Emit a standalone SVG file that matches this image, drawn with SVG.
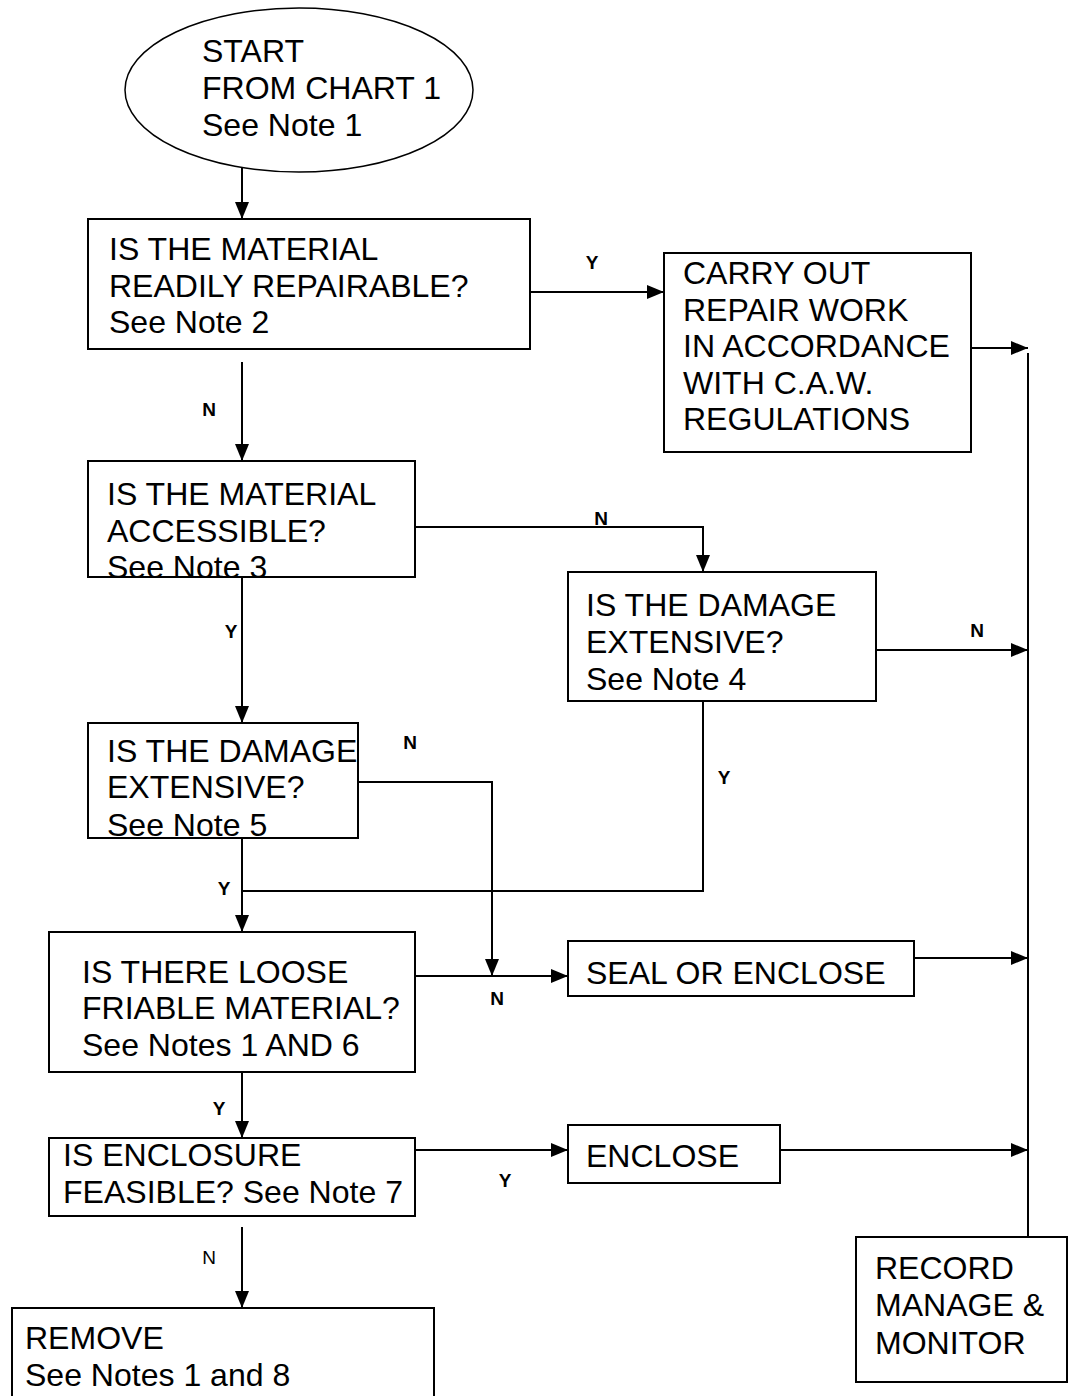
<svg xmlns="http://www.w3.org/2000/svg" width="1069" height="1396" viewBox="0 0 1069 1396">
<style>
.box{fill:#fff;stroke:#000;stroke-width:2}
.t{font-family:"Liberation Sans",Arial,sans-serif;font-size:30.5px;fill:#000}
.lb{font-family:"Liberation Sans",Arial,sans-serif;font-size:19px;font-weight:bold;fill:#000;text-anchor:middle}
.ln{font-family:"Liberation Sans",Arial,sans-serif;font-size:19px;fill:#000;text-anchor:middle}
.c{fill:none;stroke:#000;stroke-width:2}
</style>
<defs>
<marker id="ah" markerUnits="userSpaceOnUse" markerWidth="17" markerHeight="14" refX="17" refY="7" orient="auto">
<path d="M0,0 L17,7 L0,14 z" fill="#000"/>
</marker>
</defs>
<rect width="1069" height="1396" fill="#fff"/>

<g id="connectors">
<line class="c" x1="242" y1="161" x2="242" y2="219" marker-end="url(#ah)"/>
<line class="c" x1="530" y1="292" x2="664" y2="292" marker-end="url(#ah)"/>
<line class="c" x1="242" y1="362" x2="242" y2="461" marker-end="url(#ah)"/>
<polyline class="c" points="415,527 703,527 703,572" marker-end="url(#ah)"/>
<line class="c" x1="242" y1="577" x2="242" y2="723" marker-end="url(#ah)"/>
<polyline class="c" points="358,782 492,782 492,976" marker-end="url(#ah)"/>
<line class="c" x1="242" y1="838" x2="242" y2="932" marker-end="url(#ah)"/>
<polyline class="c" points="703,701 703,891 242,891"/>
<line class="c" x1="876" y1="650" x2="1028" y2="650" marker-end="url(#ah)"/>
<line class="c" x1="415" y1="976" x2="568" y2="976" marker-end="url(#ah)"/>
<line class="c" x1="242" y1="1067" x2="242" y2="1138" marker-end="url(#ah)"/>
<line class="c" x1="415" y1="1150" x2="568" y2="1150" marker-end="url(#ah)"/>
<line class="c" x1="242" y1="1227" x2="242" y2="1308" marker-end="url(#ah)"/>
<line class="c" x1="971" y1="348" x2="1028" y2="348" marker-end="url(#ah)"/>
<line class="c" x1="914" y1="958" x2="1028" y2="958" marker-end="url(#ah)"/>
<line class="c" x1="780" y1="1150" x2="1028" y2="1150" marker-end="url(#ah)"/>
<line class="c" x1="1028" y1="353" x2="1028" y2="1237"/>
<text class="lb" x="592" y="269">Y</text>
<text class="lb" x="209" y="416">N</text>
<text class="lb" x="601" y="525">N</text>
<text class="lb" x="231" y="638">Y</text>
<text class="lb" x="410" y="749">N</text>
<text class="lb" x="724" y="784">Y</text>
<text class="lb" x="977" y="637">N</text>
<text class="lb" x="224" y="895">Y</text>
<text class="lb" x="497" y="1005">N</text>
<text class="lb" x="219" y="1115">Y</text>
<text class="lb" x="505" y="1187">Y</text>
<text class="ln" x="209" y="1264">N</text>
</g>

<g id="start">
<ellipse cx="299" cy="90" rx="174" ry="82" fill="#fff" stroke="#000" stroke-width="1.5"/>
<text class="t" transform="translate(202,62) scale(1.05,1)"><tspan x="0" y="0">START</tspan><tspan x="0" y="37">FROM CHART 1</tspan><tspan x="0" y="74">See Note 1</tspan></text>
</g>

<g id="repairable">
<rect class="box" x="88" y="219" width="442" height="130"/>
<text class="t" transform="translate(109,260) scale(1.05,1)"><tspan x="0" y="0">IS THE MATERIAL</tspan><tspan x="0" y="37">READILY REPAIRABLE?</tspan><tspan x="0" y="73">See Note 2</tspan></text>
</g>

<g id="carry-out">
<rect class="box" x="664" y="253" width="307" height="199"/>
<text class="t" transform="translate(683,284) scale(1.05,1)"><tspan x="0" y="0">CARRY OUT</tspan><tspan x="0" y="37">REPAIR WORK</tspan><tspan x="0" y="73">IN ACCORDANCE</tspan><tspan x="0" y="110">WITH C.A.W.</tspan><tspan x="0" y="146">REGULATIONS</tspan></text>
</g>

<g id="accessible">
<rect class="box" x="88" y="461" width="327" height="116"/>
<text class="t" transform="translate(107,505) scale(1.05,1)"><tspan x="0" y="0">IS THE MATERIAL</tspan><tspan x="0" y="37">ACCESSIBLE?</tspan><tspan x="0" y="73">See Note 3</tspan></text>
</g>

<g id="damage4">
<rect class="box" x="568" y="572" width="308" height="129"/>
<text class="t" transform="translate(586,616) scale(1.05,1)"><tspan x="0" y="0">IS THE DAMAGE</tspan><tspan x="0" y="37">EXTENSIVE?</tspan><tspan x="0" y="74">See Note 4</tspan></text>
</g>

<g id="damage5">
<rect class="box" x="88" y="723" width="270" height="115"/>
<text class="t" transform="translate(107,762) scale(1.05,1)"><tspan x="0" y="0">IS THE DAMAGE</tspan><tspan x="0" y="36">EXTENSIVE?</tspan><tspan x="0" y="74">See Note 5</tspan></text>
</g>

<g id="friable">
<rect class="box" x="49" y="932" width="366" height="140"/>
<text class="t" transform="translate(82,983) scale(1.05,1)"><tspan x="0" y="0">IS THERE LOOSE</tspan><tspan x="0" y="36">FRIABLE MATERIAL?</tspan><tspan x="0" y="73">See Notes 1 AND 6</tspan></text>
</g>

<g id="seal">
<rect class="box" x="568" y="941" width="346" height="55"/>
<text class="t" transform="translate(586,984) scale(1.05,1)">SEAL OR ENCLOSE</text>
</g>

<g id="feasible">
<rect class="box" x="49" y="1138" width="366" height="78"/>
<text class="t" transform="translate(63,1166) scale(1.05,1)"><tspan x="0" y="0">IS ENCLOSURE</tspan><tspan x="0" y="37">FEASIBLE? See Note 7</tspan></text>
</g>

<g id="enclose">
<rect class="box" x="568" y="1125" width="212" height="58"/>
<text class="t" transform="translate(586,1167) scale(1.05,1)">ENCLOSE</text>
</g>

<g id="remove">
<rect class="box" x="12" y="1308" width="422" height="100"/>
<text class="t" transform="translate(25,1349) scale(1.05,1)"><tspan x="0" y="0">REMOVE</tspan><tspan x="0" y="37">See Notes 1 and 8</tspan></text>
</g>

<g id="record">
<rect class="box" x="856" y="1237" width="211" height="145"/>
<text class="t" transform="translate(875,1279) scale(1.05,1)"><tspan x="0" y="0">RECORD</tspan><tspan x="0" y="37">MANAGE &amp;</tspan><tspan x="0" y="75">MONITOR</tspan></text>
</g>
</svg>
